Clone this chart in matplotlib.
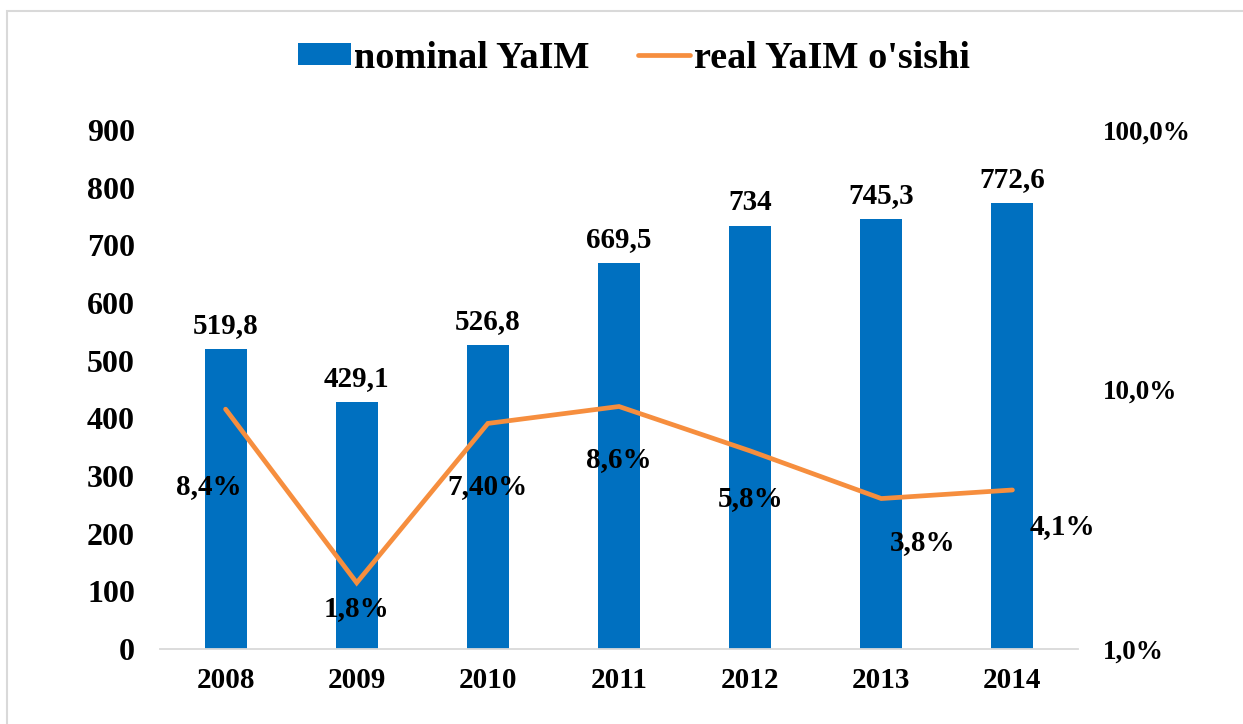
import matplotlib
matplotlib.use("Agg")
import matplotlib.pyplot as plt
from matplotlib.patches import Rectangle, Patch
from matplotlib.lines import Line2D
from matplotlib.ticker import FixedLocator, NullLocator

plt.rcParams['font.family'] = ['Liberation Serif', 'DejaVu Serif']
plt.rcParams['font.weight'] = 'bold'

years = ['2008', '2009', '2010', '2011', '2012', '2013', '2014']
nominal = [519.8, 429.1, 526.8, 669.5, 734, 745.3, 772.6]
nominal_labels = ['519,8', '429,1', '526,8', '669,5', '734', '745,3', '772,6']
growth = [8.4, 1.8, 7.4, 8.6, 5.8, 3.8, 4.1]
growth_labels = ['8,4%', '1,8%', '7,40%', '8,6%', '5,8%', '3,8%', '4,1%']
left_ticks = [0, 100, 200, 300, 400, 500, 600, 700, 800, 900]
right_ticks = [1, 10, 100]
right_tick_labels = ['1,0%', '10,0%', '100,0%']

# label offsets (pixels) for the growth labels
growth_offsets = [(-17, -77), (0, -26), (0, -63), (0, -53), (0, -48), (41, -44), (50, -37)]

BLUE = '#0070C0'
ORANGE = '#F68E3E'

fig = plt.figure(figsize=(12.43, 7.24), dpi=100)
ax = fig.add_axes([160/1243, 1-649/724, (1078-160)/1243, (649-130)/724])
x = list(range(len(years)))

ax.bar(x, nominal, width=0.32, color=BLUE, zorder=2)
for xi, v, lab in zip(x, nominal, nominal_labels):
    ax.annotate(lab, (xi, v), xytext=(0, 10), textcoords='offset pixels',
                ha='center', va='bottom', fontsize=21, fontweight='bold')

ax.set_xlim(-0.5, len(years) - 0.5)
ax.set_ylim(0, 900)
ax.set_xticks(x)
ax.set_xticklabels(years, fontsize=21, fontweight='bold')
ax.set_yticks(left_ticks)
ax.set_yticklabels([str(t) for t in left_ticks], fontsize=23, fontweight='bold')
ax.tick_params(axis='y', length=0, pad=18)
ax.tick_params(axis='x', length=0, pad=13)
for s in ['top', 'right', 'left']:
    ax.spines[s].set_visible(False)
ax.spines['bottom'].set_color('#D9D9D9')
ax.spines['bottom'].set_linewidth(1.3)

ax2 = ax.twinx()
ax2.set_yscale('log')
ax2.set_ylim(1, 100)
ax2.plot(x, growth, color=ORANGE, lw=3.4, solid_capstyle='round', solid_joinstyle='miter', zorder=3)
ax2.yaxis.set_major_locator(FixedLocator(right_ticks))
ax2.yaxis.set_minor_locator(NullLocator())
ax2.set_yticklabels(right_tick_labels, fontsize=19.5, fontweight='bold')
ax2.tick_params(axis='y', length=0, pad=18)
for s in ['top', 'right', 'left', 'bottom']:
    ax2.spines[s].set_visible(False)
for xi, v, lab, (dx, dy) in zip(x, growth, growth_labels, growth_offsets):
    ax2.annotate(lab, (xi, v), xytext=(dx, dy), textcoords='offset pixels',
                 ha='center', va='center', fontsize=21, fontweight='bold')

handles = [Patch(facecolor=BLUE, edgecolor='none'),
           Line2D([0], [0], color=ORANGE, lw=3.4, solid_capstyle='round')]
fig.legend(handles, ['nominal YaIM', "real YaIM o'sishi"], loc='center',
           bbox_to_anchor=(634/1243, 1-58/724), ncol=2, frameon=False,
           prop={'size': 27.5, 'weight': 'bold'}, handlelength=1.38, handleheight=0.48,
           handletextpad=0.1, columnspacing=1.25)

fig.patches.append(Rectangle((7/1243, -0.1), 1.2, 1.1 - 11/724,
                             transform=fig.transFigure, fill=False,
                             edgecolor='#D9D9D9', lw=1.5))

fig.savefig('out.png', dpi=100)
